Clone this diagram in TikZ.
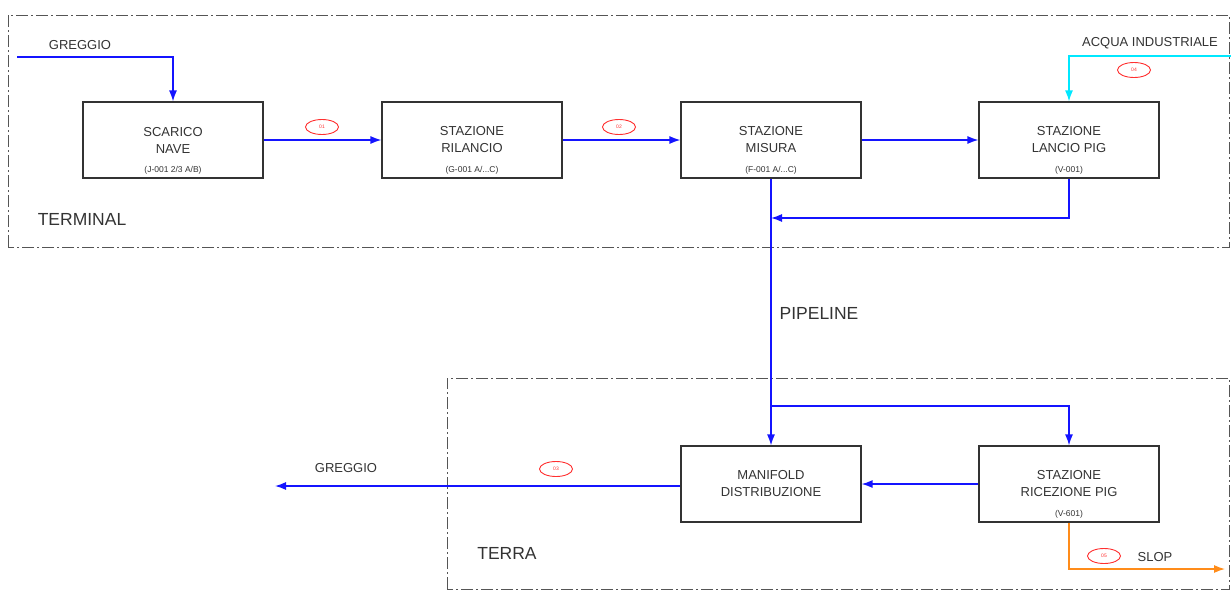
\documentclass[tikz,border=0pt]{standalone}
\usepackage{fontspec}
\setmainfont{Liberation Sans}
\usetikzlibrary{arrows.meta,shapes.geometric}
\definecolor{txt}{HTML}{333333}
\definecolor{bl}{HTML}{1414FF}
\definecolor{cy}{HTML}{00E8FF}
\definecolor{og}{HTML}{FF8C1A}
\definecolor{rd}{HTML}{FF3030}
\definecolor{fr}{HTML}{555555}
\begin{document}
\begin{tikzpicture}[x=1pt,y=-1pt,
  stbox/.style={draw=txt,line width=1.2pt,minimum width=180pt,minimum height=76pt,inner sep=0pt,align=center,font=\fontsize{13}{17}\selectfont,text=txt},
  sub/.style={font=\fontsize{8.5}{9}\selectfont,text=txt,inner sep=0pt},
  lab/.style={font=\fontsize{13}{15}\selectfont,text=txt,inner sep=0pt},
  big/.style={font=\fontsize{17.5}{19}\selectfont,text=txt,inner sep=0pt},
  flow/.style={line width=1.3pt,-{Latex[length=11pt,width=8pt]}},
  tag/.style={draw=rd,line width=0.9pt,ellipse,minimum width=33pt,minimum height=15pt,inner sep=0pt,font=\fontsize{5}{5}\selectfont,text=rd},
  frame/.style={draw=fr,line width=0.8pt,dash pattern=on 12pt off 3pt on 2pt off 3pt}
]
\useasboundingbox (0,0) rectangle (1231,592);
% frames
\draw[frame] (8,247) -- (8,15) -- (1229,15) -- (1229,247) -- cycle;
\draw[frame] (447,589) -- (447,378) -- (1229,378) -- (1229,589) -- cycle;
% boxes
\node[stbox] (b1) at (173,140) {SCARICO\\NAVE};
\node[stbox] (b2) at (472,140) {STAZIONE\\RILANCIO};
\node[stbox] (b3) at (771,140) {STAZIONE\\MISURA};
\node[stbox] (b4) at (1069,140) {STAZIONE\\LANCIO PIG};
\node[stbox] (man) at (771,484) {MANIFOLD\\DISTRIBUZIONE};
\node[stbox] (ric) at (1069,484) {STAZIONE\\RICEZIONE PIG};
\node[sub] (s1) at (173,170) {(J-001 2/3 A/B)};
\node[sub] (s2) at (472,170) {(G-001 A/...C)};
\node[sub] (s3) at (771,170) {(F-001 A/...C)};
\node[sub] (s4) at (1069,170) {(V-001)};
\node[sub] (s6) at (1069,514) {(V-601)};
% labels
\node[lab] (g1) at (80,45) {GREGGIO};
\node[lab] (aq) at (1150,43) {ACQUA INDUSTRIALE};
\node[big] (term) at (82,219) {TERMINAL};
\node[big] (pipe) at (819,313) {PIPELINE};
\node[big] (terra) at (507,553) {TERRA};
\node[lab] (g2) at (346,468) {GREGGIO};
\node[lab] (sl) at (1155,557) {SLOP};
% tags
\node[tag] (t1) at (322,127) {01};
\node[tag] (t2) at (619,127) {02};
\node[tag] (t4) at (1134,70) {04};
\node[tag] (t3) at (556,469) {03};
\node[tag] (t5) at (1104,556) {05};
% coordinates
\coordinate (gin) at (17,57);
\coordinate (acq) at (1231,56);
\coordinate (j1) at (771,218);
\coordinate (br) at (771,406);
\coordinate (gout) at (275,486);
\coordinate (slop) at (1225,569);
% connectors
\draw[flow,bl] (gin) -| (b1.north);
\draw[flow,bl] (b1.east) -- (b2.west);
\draw[flow,bl] (b2.east) -- (b3.west);
\draw[flow,bl] (b3.east) -- (b4.west);
\draw[flow,cy] (acq) -| (b4.north);
\draw[flow,bl] (b3.south) -- (man.north);
\draw[flow,bl] (b4.south) |- (j1);
\draw[flow,bl] (br) -| (ric.north);
\draw[flow,bl] (ric.west) -- (man.east);
\draw[flow,bl] (man.west |- gout) -- (gout);
\draw[flow,og] (ric.south) |- (slop);
\end{tikzpicture}
\end{document}
